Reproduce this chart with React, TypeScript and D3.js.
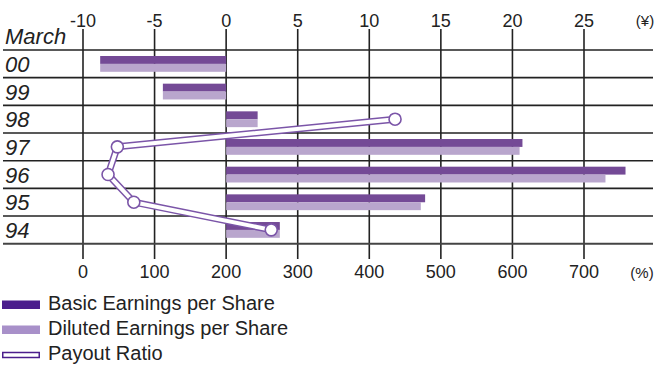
import React from "react";
import * as d3 from "d3";

// Fiscal years (March year-end), top row first
const years = ["00", "99", "98", "97", "96", "95", "94"];
// Earnings per share (¥)
const basicEPS = [-8.8, -4.42, 2.2, 20.7, 27.9, 13.9, 3.75];
const dilutedEPS = [-8.8, -4.42, 2.2, 20.5, 26.5, 13.6, 3.75];
// Payout ratio (%), absent for loss years
const payoutRatio: (number | null)[] = [null, null, 436, 48, 35, 71, 263];

const yenTicks = [-10, -5, 0, 5, 10, 15, 20, 25];
const pctTicks = [0, 100, 200, 300, 400, 500, 600, 700];

const legendItems = ["Basic Earnings per Share", "Diluted Earnings per Share", "Payout Ratio"];

const W = 655;
const H = 365;

const darkBar = "#744a96";
const lightBar = "#b9a6cd";
const lineColor = "#7b55a8";
const gridColor = "#222";
const textColor = "#222";
const font = "'Liberation Sans', Arial, sans-serif";

export default function App() {
  const x = d3.scaleLinear().domain([-10, 25]).range([83, 584]);
  const xPct = d3.scaleLinear().domain([0, 700]).range([83, 584]);
  const y = d3.scaleBand<string>().domain(years).range([50, 243.7]);
  const bw = y.bandwidth();
  const barH = 7.9;
  const barTop = 6;

  const rowLines = [...years.map((yr) => y(yr) as number), 243.7];

  const payoutPts = years
    .map((yr, i) => ({ yr, v: payoutRatio[i] }))
    .filter((d) => d.v !== null) as { yr: string; v: number }[];

  const line = d3
    .line<{ yr: string; v: number }>()
    .x((d) => xPct(d.v))
    .y((d) => (y(d.yr) as number) + bw / 2);
  const pathD = line(payoutPts) || "";

  return (
    <svg
      width={W}
      height={H}
      style={{ position: "absolute", left: 0, top: 0, background: "#fff" }}
      fontFamily={font}
    >
      {/* vertical grid lines shared by both axes */}
      {yenTicks.map((t) => (
        <line key={"v" + t} x1={x(t)} x2={x(t)} y1={29} y2={259} stroke={gridColor} strokeWidth={1.6} />
      ))}
      {/* row separators */}
      {rowLines.map((ly, i) => (
        <line
          key={"h" + i}
          x1={3}
          x2={653}
          y1={ly}
          y2={ly}
          stroke={i === rowLines.length - 1 ? "#444" : gridColor}
          strokeWidth={i === rowLines.length - 1 ? 2 : 1.6}
        />
      ))}

      {/* top axis (¥) */}
      {yenTicks.map((t) => (
        <text key={"yt" + t} x={x(t)} y={27} textAnchor="middle" fontSize={18} fill={textColor}>
          {t < 0 ? "-" + Math.abs(t) : String(t)}
        </text>
      ))}
      <text x={645} y={26} textAnchor="middle" fontSize={15} fill={textColor}>
        (¥)
      </text>

      {/* bottom axis (%) */}
      {pctTicks.map((t) => (
        <text key={"pt" + t} x={xPct(t)} y={278} textAnchor="middle" fontSize={18} fill={textColor}>
          {t}
        </text>
      ))}
      <text x={642} y={278} textAnchor="middle" fontSize={15} fill={textColor}>
        (%)
      </text>

      {/* row labels */}
      <text x={5} y={44} fontSize={22} fontStyle="italic" fill={textColor}>
        March
      </text>
      {years.map((yr) => (
        <text key={"yl" + yr} x={5} y={(y(yr) as number) + 22} fontSize={22} fontStyle="italic" fill={textColor}>
          {yr}
        </text>
      ))}

      {/* EPS bars */}
      {years.map((yr, i) => {
        const top = (y(yr) as number) + barTop;
        const b = basicEPS[i];
        const d = dilutedEPS[i];
        return (
          <g key={"b" + yr}>
            <rect x={Math.min(x(0), x(b))} y={top} width={Math.abs(x(b) - x(0))} height={barH} fill={darkBar} />
            <rect
              x={Math.min(x(0), x(d))}
              y={top + barH}
              width={Math.abs(x(d) - x(0))}
              height={barH}
              fill={lightBar}
            />
          </g>
        );
      })}

      {/* payout ratio: hollow double line with open markers */}
      <path d={pathD} fill="none" stroke={lineColor} strokeWidth={7} strokeLinejoin="round" />
      <path d={pathD} fill="none" stroke="#fff" strokeWidth={4} strokeLinejoin="round" />
      {payoutPts.map((p) => (
        <circle
          key={"c" + p.yr}
          cx={xPct(p.v)}
          cy={(y(p.yr) as number) + bw / 2}
          r={6}
          fill="#fff"
          stroke={lineColor}
          strokeWidth={1.6}
        />
      ))}

      {/* legend */}
      <rect x={2} y={300.5} width={38} height={8.5} fill="#4b1e8c" />
      <rect x={2} y={325.5} width={38} height={8.5} fill="#a890c9" />
      <rect x={2.75} y={352.5} width={36.5} height={5} fill="#fff" stroke="#4b1e8c" strokeWidth={1.5} />
      {legendItems.map((label, i) => (
        <text key={"lg" + i} x={48} y={310 + i * 25} fontSize={20} fill={textColor}>
          {label}
        </text>
      ))}
    </svg>
  );
}
